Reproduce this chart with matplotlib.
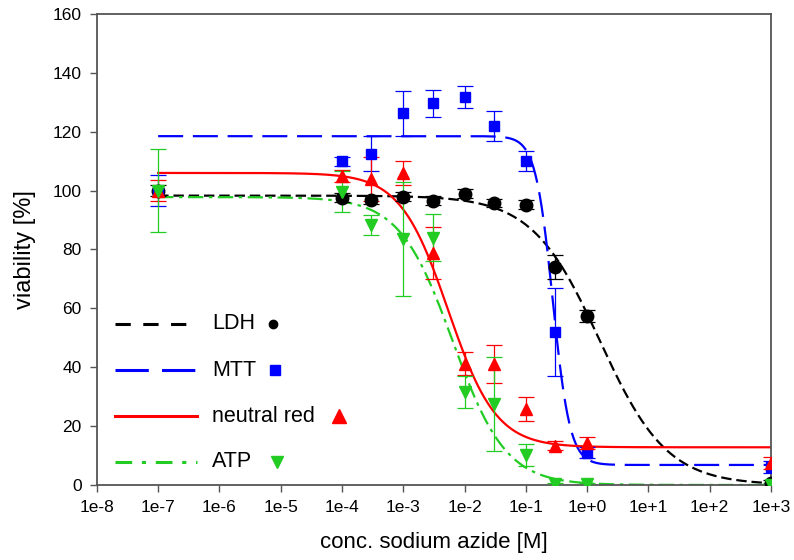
import numpy as np
import matplotlib
matplotlib.use('Agg')
import matplotlib.pyplot as plt
from matplotlib.ticker import FixedLocator, NullLocator

plt.rcParams['font.family'] = ['Liberation Sans', 'DejaVu Sans']
plt.rcParams['lines.scale_dashes'] = False

# ---- data ----
conc = [1e-7, 1e-4, 3e-4, 1e-3, 3e-3, 1e-2, 3e-2, 1e-1, 3e-1, 1e0, 1e3]
ldh = [100, 97.6, 96.8, 97.9, 96.6, 99.0, 95.8, 95.2, 74, 57.4, 0.6]
ldh_err = [2, 1.5, 1.5, 1.5, 1.5, 1.5, 1.5, 1.5, 4, 2, 1]
mtt = [100, 110, 112.5, 126.2, 129.6, 131.8, 122, 110, 52, 11, 6]
mtt_err = [5.3, 1.5, 6, 7.5, 4.5, 3.7, 5, 3.3, 15, 2, 2]
nr = [100, 105, 104, 106, 78.8, 41.2, 41, 25.8, 13.4, 14.3, 7.5]
nr_err = [3.5, 2, 7.5, 4, 8.8, 4, 6.5, 4, 1.5, 2, 2]
atp = [100, 99.6, 88.3, 83.6, 84, 31.7, 27.5, 10.2, 0.3, 0.3, 0]
atp_err = [14, 7, 3.5, 19.4, 8, 5.4, 16, 3.6, 0.5, 0.5, 0.5]

# fitted sigmoid parameters (top, bottom, EC50, hill)
fit_ldh = (98.3, 0.0, 1.6, 0.79)
fit_mtt = (118.5, 6.8, 0.275, 3.1)
fit_nr = (106.0, 12.8, 5.4e-3, 1.11)
fit_atp = (97.8, 0.0, 6.4e-3, 1.0)

xticks = [1e-8, 1e-7, 1e-6, 1e-5, 1e-4, 1e-3, 1e-2, 1e-1, 1e0, 1e1, 1e2, 1e3]
xticklabels = ['1e-8', '1e-7', '1e-6', '1e-5', '1e-4', '1e-3', '1e-2', '1e-1',
               '1e+0', '1e+1', '1e+2', '1e+3']
yticks = [0, 20, 40, 60, 80, 100, 120, 140, 160]
labels = ['LDH', 'MTT', 'neutral red', 'ATP']


def sigmoid(x, p):
    top, bot, ec, h = p
    return bot + (top - bot) / (1 + (x / ec) ** h)


fig = plt.figure(figsize=(7.94, 5.60), dpi=100)
ax = fig.add_axes([0.122, 0.134, 0.849, 0.841])

xs = np.logspace(-7, 3, 600)

c_black = '#000000'
c_blue = '#0000ff'
c_red = '#ff0000'
c_green = '#22cc22'

styles = [
    dict(color=c_black, dashes=(7.5, 3.5), marker='o', ms=9, data=ldh, err=ldh_err, fit=fit_ldh),
    dict(color=c_blue, dashes=(18, 7), marker='s', ms=7, data=mtt, err=mtt_err, fit=fit_mtt),
    dict(color=c_red, dashes=None, marker='^', ms=9, data=nr, err=nr_err, fit=fit_nr),
    dict(color=c_green, dashes=(11, 4, 2.5, 4), marker='v', ms=9, data=atp, err=atp_err, fit=fit_atp),
]

for s in styles:
    kw = dict(color=s['color'], lw=1.6, zorder=2)
    ln, = ax.plot(xs, sigmoid(xs, s['fit']), **kw)
    if s['dashes'] is not None:
        ln.set_dashes(s['dashes'])

for s in styles:
    ax.errorbar(conc, s['data'], yerr=s['err'], fmt='none', ecolor=s['color'],
                elinewidth=0.9, capsize=5.5, capthick=0.9, zorder=3)
    ax.plot(conc, s['data'], linestyle='none', marker=s['marker'], ms=s['ms'],
            color=s['color'], mec=s['color'], zorder=4)

ax.set_xscale('log')
ax.set_xlim(1e-8, 1e3)
ax.set_ylim(0, 160)
ax.xaxis.set_major_locator(FixedLocator(xticks))
ax.xaxis.set_minor_locator(NullLocator())
ax.set_xticklabels(xticklabels)
ax.set_yticks(yticks)

for sp in ax.spines.values():
    sp.set_color('#555555')
    sp.set_linewidth(1.3)
ax.tick_params(direction='out', length=5, width=1, color='#555555',
               labelsize=12.5, pad=6)

ax.set_xlabel('conc. sodium azide [M]', fontsize=16, labelpad=12)
ax.set_ylabel('viability [%]', fontsize=17, labelpad=12)

# ---- custom legend (line, text, marker) ----
leg_rows = [0.342, 0.244, 0.146, 0.049]
leg_mx = [0.261, 0.264, 0.359, 0.267]
leg_dashes = [(11, 9), (24, 9.5), None, (12, 7, 3, 7)]
leg_ms = [6, 7, 10, 9]
for s, lab, yy, mx, dsh, ms in zip(styles, labels, leg_rows, leg_mx, leg_dashes, leg_ms):
    ln, = ax.plot([0.027, 0.148], [yy, yy], transform=ax.transAxes,
                  color=s['color'], lw=2.2, clip_on=False, zorder=5)
    if dsh is not None:
        ln.set_dashes(dsh)
    ax.text(0.171, yy, lab, transform=ax.transAxes, fontsize=15.5,
            va='center', ha='left', zorder=5)
    ax.plot([mx], [yy], transform=ax.transAxes, marker=s['marker'], ms=ms,
            color=s['color'], linestyle='none', zorder=5)

fig.savefig('out.png', dpi=100)
